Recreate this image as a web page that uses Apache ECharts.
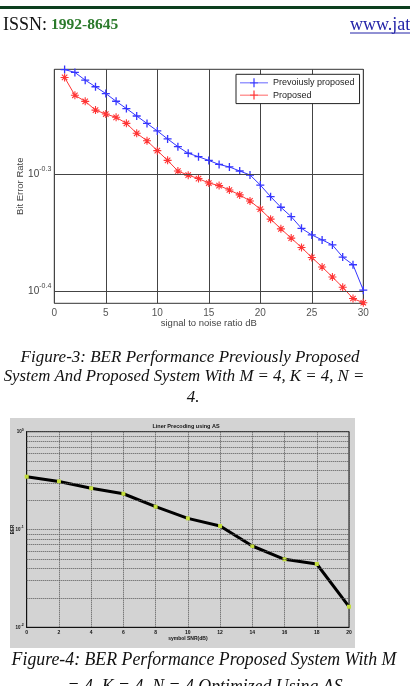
<!DOCTYPE html>
<html>
<head>
<meta charset="utf-8">
<script src="https://cdn.jsdelivr.net/npm/echarts@6/dist/echarts.min.js"></script>
<style>
  html, body { margin: 0; padding: 0; background: #fff; }
  #page { width: 410px; height: 686px; }
</style>
</head>
<body>
<div id="page"></div>
<script>
// Figure-3: BER vs SNR (log axis)
const snr = [1, 2, 3, 4, 5, 6, 7, 8, 9, 10, 11, 12, 13, 14, 15, 16, 17, 18, 19, 20, 21, 22, 23, 24, 25, 26, 27, 28, 29, 30];
const prevProposed = [0.6100, 0.6067, 0.5978, 0.5903, 0.5827, 0.5742, 0.5663, 0.5583, 0.5504, 0.5426,
  0.5344, 0.5266, 0.5200, 0.5166, 0.5129, 0.5090, 0.5066, 0.5027, 0.4989, 0.4894,
  0.4787, 0.4691, 0.4608, 0.4506, 0.4450, 0.4408, 0.4366, 0.4266, 0.4204, 0.4005];
const proposed = [0.6009, 0.5808, 0.5741, 0.5646, 0.5604, 0.5569, 0.5505, 0.5402, 0.5325, 0.5226,
  0.5130, 0.5027, 0.4987, 0.4955, 0.4913, 0.4889, 0.4848, 0.4803, 0.4748, 0.4674,
  0.4586, 0.4502, 0.4423, 0.4345, 0.4263, 0.4186, 0.4107, 0.4027, 0.3942, 0.3910];
const berGridValues = [0.5012, 0.3981];
const berGridExponents = ['-0.3', '-0.4'];

// Figure-4: BER vs symbol SNR
const symbolSnr = [0, 2, 4, 6, 8, 10, 12, 14, 16, 18, 20];
const berAS = [0.347, 0.310, 0.264, 0.232, 0.171, 0.130, 0.1086, 0.0678, 0.0496, 0.0444, 0.01625];
const minorGridValues = [0.02, 0.03, 0.04, 0.05, 0.06, 0.07, 0.08, 0.09,
  0.2, 0.3, 0.4, 0.5, 0.6, 0.7, 0.8, 0.9];

const sans = 'Liberation Sans';
const plusPath = 'path://M5,0L5,10M0,5L10,5';
const starPath = 'path://M5,0L5,10M0,5L10,5M1.6,1.6L8.4,8.4M8.4,1.6L1.6,8.4';
// legend sample: line with a plus marker in the middle
const legendPath = 'path://M0,4.1H28V4.9H0Z M13.4,0H14.6V9H13.4Z M10,3.9H18V5.1H10Z';
const blue = '#3535ff';
const red = '#ff3535';

const chart = echarts.init(document.getElementById('page'));

const option = {
  animation: false,
  backgroundColor: '#fff',
  graphic: [
    { type: 'rect', shape: { x: 0, y: 6, width: 410, height: 3 }, style: { fill: '#0c3f1e' } },
    { type: 'text', x: 3, y: 25, style: { text: 'ISSN:', font: '18px "Liberation Serif"', fill: '#111', verticalAlign: 'middle' } },
    { type: 'text', x: 51, y: 25, style: { text: '1992-8645', font: 'bold 15.5px "Liberation Serif"', fill: '#2b7a2b', verticalAlign: 'middle' } },
    { type: 'text', x: 350, y: 25, style: { text: 'www.jatit.org', font: '18px "Liberation Serif"', fill: '#2323a8', verticalAlign: 'middle' } },
    { type: 'line', shape: { x1: 350, y1: 33, x2: 410, y2: 33 }, style: { stroke: '#2323a8', lineWidth: 1 } },

    { type: 'text', x: 190, y: 358, style: { text: 'Figure-3: BER Performance Previously Proposed', font: 'italic 17px "Liberation Serif"', fill: '#111', align: 'center', verticalAlign: 'middle' } },
    { type: 'text', x: 184, y: 377, style: { text: 'System And Proposed System With M = 4, K = 4, N =', font: 'italic 16.8px "Liberation Serif"', fill: '#111', align: 'center', verticalAlign: 'middle' } },
    { type: 'text', x: 193, y: 398, style: { text: '4.', font: 'italic 17px "Liberation Serif"', fill: '#111', align: 'center', verticalAlign: 'middle' } },

    { type: 'rect', z: -5, shape: { x: 10, y: 418, width: 345, height: 230 }, style: { fill: '#d3d3d3' } },
    { type: 'text', x: 186, y: 426, style: { text: 'Liner Precoding using AS', font: 'bold 5.5px "Liberation Sans"', fill: '#111', align: 'center', verticalAlign: 'middle' } },

    { type: 'text', x: 204, y: 660, style: { text: 'Figure-4: BER Performance Proposed System With M', font: 'italic 17.8px "Liberation Serif"', fill: '#111', align: 'center', verticalAlign: 'middle' } },
    { type: 'text', x: 205, y: 687, style: { text: '= 4, K = 4, N = 4 Optimized Using AS', font: 'italic 17.8px "Liberation Serif"', fill: '#111', align: 'center', verticalAlign: 'middle' } }
  ],
  legend: {
    data: [
      { name: 'Prevoiusly proposed', icon: legendPath },
      { name: 'Proposed', icon: legendPath }
    ],
    orient: 'vertical',
    left: 236,
    top: 74.3,
    padding: [4, 5, 4, 4],
    itemGap: 3.3,
    itemWidth: 28,
    itemHeight: 9,
    symbolKeepAspect: false,
    borderColor: '#222',
    borderWidth: 1,
    backgroundColor: '#fff',
    itemStyle: { borderWidth: 0 },
    textStyle: { fontSize: 9, color: '#222', fontFamily: sans }
  },
  grid: [
    { left: 54.3, top: 69.3, width: 309, height: 234, show: true, borderColor: '#333', borderWidth: 1, backgroundColor: '#fff', outerBoundsMode: 'none' },
    { left: 26.7, top: 431.7, width: 322.3, height: 195.6, show: true, borderColor: '#111', borderWidth: 1, backgroundColor: 'transparent', outerBoundsMode: 'none' }
  ],
  xAxis: [
    {
      gridIndex: 0, type: 'value', min: 0, max: 30, interval: 5,
      name: 'signal to noise ratio dB', nameLocation: 'middle', nameGap: 15, nameMoveOverlap: false,
      nameTextStyle: { fontSize: 9.5, color: '#444', fontFamily: sans },
      axisLine: { show: false }, axisTick: { show: false },
      axisLabel: { fontSize: 10, color: '#555', fontFamily: sans, margin: 5 },
      splitLine: { show: true, lineStyle: { color: '#444', width: 1 } }
    },
    {
      gridIndex: 1, type: 'value', min: 0, max: 20, interval: 2,
      name: 'symbol SNR(dB)', nameLocation: 'middle', nameGap: 9, nameMoveOverlap: false,
      nameTextStyle: { fontSize: 5, color: '#111', fontFamily: sans, fontWeight: 'bold' },
      axisLine: { show: true, lineStyle: { color: '#111', width: 1 } }, axisTick: { show: false },
      axisLabel: { fontSize: 5, color: '#111', fontFamily: sans, fontWeight: 'bold', margin: 3 },
      splitLine: { show: true, lineStyle: { color: '#555', width: 1, type: 'dotted' } }
    }
  ],
  yAxis: [
    {
      gridIndex: 0, type: 'log', logBase: 10, min: 0.3906, max: 0.6103,
      name: 'Bit Error Rate', nameLocation: 'middle', nameGap: 29, nameMoveOverlap: false,
      nameTextStyle: { fontSize: 9.5, color: '#444', fontFamily: sans },
      axisLine: { show: false }, axisTick: { show: false },
      axisLabel: { show: false }, splitLine: { show: false }
    },
    {
      gridIndex: 1, type: 'log', logBase: 10, min: 0.01, max: 1,
      name: 'BER', nameLocation: 'middle', nameGap: 11.5, nameMoveOverlap: false,
      nameTextStyle: { fontSize: 4.5, color: '#111', fontFamily: sans, fontWeight: 'bold' },
      axisLine: { show: true, lineStyle: { color: '#111', width: 1 } }, axisTick: { show: false },
      axisLabel: {
        margin: 3,
        formatter: v => '{b|10}{s|' + Math.round(Math.log10(v)) + '}',
        rich: {
          b: { fontSize: 4.5, color: '#111', fontFamily: sans, fontWeight: 'bold', lineHeight: 8 },
          s: { fontSize: 3.5, color: '#111', fontFamily: sans, fontWeight: 'bold', lineHeight: 8, verticalAlign: 'top' }
        }
      },
      splitLine: { show: true, lineStyle: { color: '#555', width: 1, type: 'dotted' } }
    }
  ],
  series: [
    {
      type: 'line', name: 'fig3-grid', xAxisIndex: 0, yAxisIndex: 0, data: [], z: 1, silent: true,
      markLine: {
        silent: true, symbol: 'none', animation: false,
        lineStyle: { color: '#444', width: 1, type: 'solid' },
        label: {
          position: 'start', distance: 3,
          formatter: p => '{b|10}{s|' + p.name + '}',
          rich: {
            b: { fontSize: 10, color: '#444', fontFamily: sans, lineHeight: 16 },
            s: { fontSize: 7, color: '#444', fontFamily: sans, lineHeight: 16, verticalAlign: 'top' }
          }
        },
        emphasis: { disabled: true },
        data: berGridValues.map((v, i) => ({ yAxis: v, name: berGridExponents[i] }))
      }
    },
    {
      type: 'line', name: 'Prevoiusly proposed', xAxisIndex: 0, yAxisIndex: 0, z: 3,
      data: snr.map((x, i) => [x, prevProposed[i]]),
      symbol: plusPath, symbolSize: 8,
      lineStyle: { color: blue, width: 1 },
      itemStyle: { color: blue, borderColor: blue, borderWidth: 1.3 }
    },
    {
      type: 'line', name: 'Proposed', xAxisIndex: 0, yAxisIndex: 0, z: 3,
      data: snr.map((x, i) => [x, proposed[i]]),
      symbol: starPath, symbolSize: 8,
      lineStyle: { color: red, width: 1 },
      itemStyle: { color: red, borderColor: red, borderWidth: 1.1 }
    },
    {
      type: 'line', name: 'fig4-grid', xAxisIndex: 1, yAxisIndex: 1, data: [], z: 1, silent: true,
      markLine: {
        silent: true, symbol: 'none', animation: false,
        lineStyle: { color: '#555', width: 1, type: 'dotted' },
        label: { show: false },
        emphasis: { disabled: true },
        data: minorGridValues.map(v => ({ yAxis: v }))
      }
    },
    {
      type: 'line', name: 'AS', xAxisIndex: 1, yAxisIndex: 1, z: 3,
      data: symbolSnr.map((x, i) => [x, berAS[i]]),
      symbol: 'rect', symbolSize: 4,
      lineStyle: { color: '#000', width: 3 },
      itemStyle: { color: '#c3dd3a' }
    }
  ]
};

chart.setOption(option);
</script>
</body>
</html>
